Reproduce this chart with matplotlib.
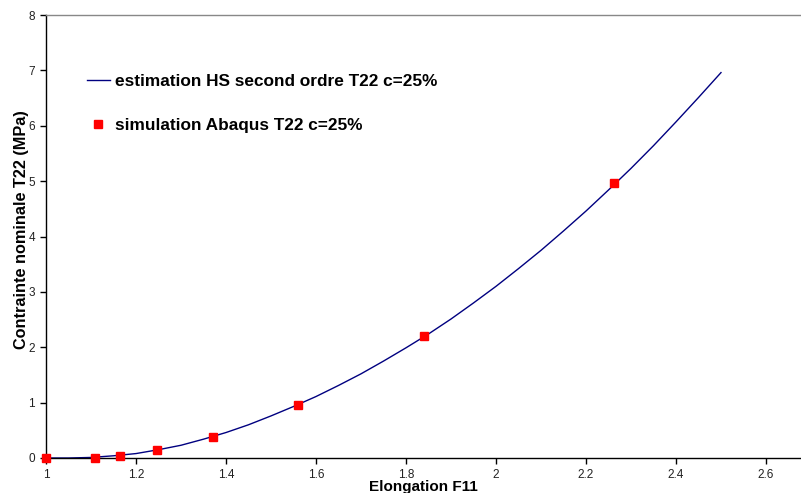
import matplotlib
matplotlib.use("Agg")
import matplotlib.pyplot as plt

# estimation curve
curve_x = [1.00, 1.05, 1.10, 1.15, 1.20, 1.25, 1.30, 1.35, 1.40, 1.45, 1.50,
           1.55, 1.60, 1.65, 1.70, 1.75, 1.80, 1.85, 1.90, 1.95, 2.00,
           2.05, 2.10, 2.15, 2.20, 2.25, 2.30, 2.35, 2.40, 2.45, 2.50]
curve_y = [0.00, 0.00, 0.01, 0.04, 0.08, 0.15, 0.23, 0.34, 0.46, 0.60, 0.76,
           0.93, 1.11, 1.31, 1.52, 1.75, 1.99, 2.24, 2.51, 2.80, 3.10,
           3.42, 3.75, 4.10, 4.46, 4.84, 5.23, 5.64, 6.07, 6.51, 6.96]

# simulation points
sim_x = [1.000, 1.109, 1.164, 1.247, 1.372, 1.559, 1.841, 2.262]
sim_y = [0.00, 0.00, 0.03, 0.14, 0.385, 0.95, 2.21, 4.97]

x_ticks = [1, 1.2, 1.4, 1.6, 1.8, 2, 2.2, 2.4, 2.6]
x_tick_labels = ["1", "1.2", "1.4", "1.6", "1.8", "2", "2.2", "2.4", "2.6"]
y_ticks = [0, 1, 2, 3, 4, 5, 6, 7, 8]

label_curve = "estimation HS second ordre T22 c=25%"
label_sim = "simulation Abaqus T22 c=25%"

plt.rcParams['font.family'] = ['Liberation Sans', 'DejaVu Sans']

fig = plt.figure(figsize=(8.01, 4.93), dpi=100)
ax = fig.add_axes([46/801, 1-458/493, 754/801, (458-15)/493])

ax.plot(curve_x, curve_y, color='#000080', lw=1.0, label=label_curve)
ax.plot(sim_x, sim_y, linestyle='none', marker='s', ms=6, color='#ff0000',
        mec='#ff0000', label=label_sim, zorder=3, clip_on=False)

ax.set_xlim(1, 1 + 754/450)
ax.set_ylim(0, 8)
ax.set_xticks(x_ticks)
ax.set_xticklabels(x_tick_labels)
ax.set_yticks(y_ticks)
ax.tick_params(axis='both', direction='out', length=4, width=1, labelsize=8.5,
               labelcolor='#222222', pad=4)

for s in ['left', 'bottom']:
    ax.spines[s].set_color('black')
    ax.spines[s].set_linewidth(1.0)
ax.spines['top'].set_color('#888888')
ax.spines['top'].set_linewidth(1.0)
ax.spines['right'].set_visible(False)

ax.set_xlabel("Elongation F11", fontsize=11, fontweight='bold', labelpad=-1)
ax.set_ylabel("Contrainte nominale T22 (MPa)", fontsize=11.7, fontweight='bold')
ax.yaxis.set_label_coords(-0.022, 0.515)

leg = ax.legend(loc='upper left', bbox_to_anchor=(0.045, 0.882), frameon=False,
                prop={'family': 'Liberation Sans', 'weight': 'bold', 'size': 12.4},
                labelspacing=1.65, handlelength=1.35, handletextpad=0.3,
                borderaxespad=0)

fig.savefig("out.png", dpi=100)
